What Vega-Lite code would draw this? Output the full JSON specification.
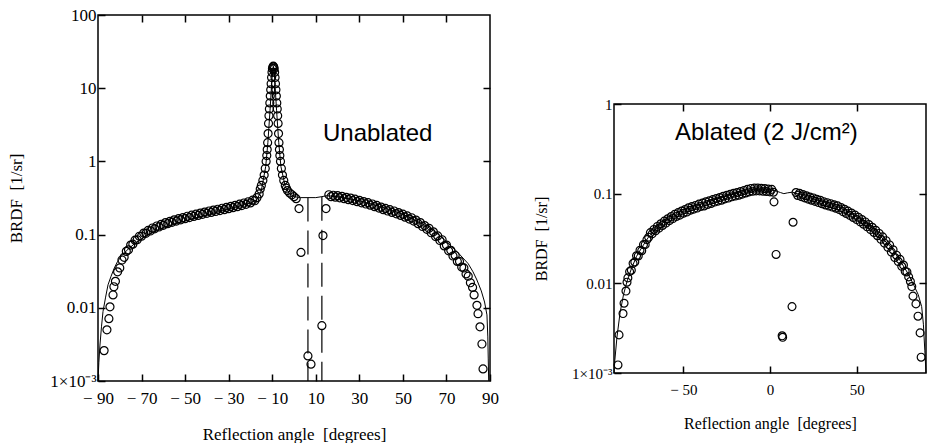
{
"$schema": "https://vega.github.io/schema/vega-lite/v6.json",
"background": "white",
"padding": {"left": 7, "top": 5, "right": 0, "bottom": 0},
"spacing": 32,
"config": {
  "view": {"stroke": "black", "strokeWidth": 1.5},
  "axis": {"domain": false, "grid": false, "tickColor": "black", "tickSize": -7, "tickWidth": 1.5, "labelColor": "black", "labelFont": "Liberation Serif", "titleFont": "Liberation Serif", "titleFontWeight": "normal", "titleColor": "black", "labelPadding": 16, "labelOverlap": false, "labelFlush": false}
},
"datasets": {
  "ptsL": [
    {"x": -87.2, "y": 0.0026}, {"x": -85.9, "y": 0.005}, {"x": -85, "y": 0.0071}, {"x": -84.5, "y": 0.0103}, {"x": -83.1, "y": 0.015}, {"x": -82.7, "y": 0.0194},
    {"x": -82, "y": 0.023}, {"x": -81, "y": 0.031}, {"x": -80, "y": 0.035}, {"x": -79, "y": 0.045}, {"x": -78, "y": 0.049}, {"x": -77, "y": 0.059}, {"x": -76, "y": 0.062}, {"x": -75, "y": 0.072}, {"x": -74, "y": 0.074}, {"x": -73, "y": 0.084}, {"x": -72, "y": 0.085}, {"x": -71, "y": 0.095}, {"x": -70, "y": 0.095}, {"x": -69, "y": 0.105}, {"x": -68, "y": 0.104}, {"x": -67, "y": 0.114}, {"x": -66, "y": 0.112}, {"x": -65, "y": 0.123}, {"x": -64, "y": 0.12}, {"x": -63, "y": 0.131}, {"x": -62, "y": 0.127}, {"x": -61, "y": 0.138}, {"x": -60, "y": 0.134}, {"x": -59, "y": 0.146}, {"x": -58, "y": 0.141}, {"x": -57, "y": 0.152}, {"x": -56, "y": 0.147}, {"x": -55, "y": 0.159}, {"x": -54, "y": 0.153}, {"x": -53, "y": 0.165}, {"x": -52, "y": 0.159}, {"x": -51, "y": 0.171}, {"x": -50, "y": 0.165}, {"x": -49, "y": 0.178}, {"x": -48, "y": 0.171}, {"x": -47, "y": 0.184}, {"x": -46, "y": 0.177}, {"x": -45, "y": 0.19}, {"x": -44, "y": 0.183}, {"x": -43, "y": 0.197}, {"x": -42, "y": 0.189}, {"x": -41, "y": 0.203}, {"x": -40, "y": 0.195}, {"x": -39, "y": 0.21}, {"x": -38, "y": 0.201}, {"x": -37, "y": 0.216}, {"x": -36, "y": 0.207}, {"x": -35, "y": 0.222}, {"x": -34, "y": 0.213}, {"x": -33, "y": 0.229}, {"x": -32, "y": 0.219}, {"x": -31, "y": 0.236}, {"x": -30, "y": 0.226}, {"x": -29, "y": 0.243}, {"x": -28, "y": 0.233}, {"x": -27, "y": 0.251}, {"x": -26, "y": 0.241}, {"x": -25, "y": 0.26}, {"x": -24, "y": 0.249}, {"x": -23, "y": 0.27}, {"x": -22, "y": 0.259}, {"x": -21, "y": 0.281}, {"x": -20, "y": 0.271}, {"x": -19, "y": 0.295}, {"x": -18, "y": 0.29}, {"x": -17, "y": 0.32}, {"x": -16, "y": 0.36},
    {"x": -15.5, "y": 0.42}, {"x": -15, "y": 0.47}, {"x": -14.3, "y": 0.55}, {"x": -13.7, "y": 0.65}, {"x": -13.2, "y": 0.8}, {"x": -12.8, "y": 1.0}, {"x": -12.5, "y": 1.2}, {"x": -12.3, "y": 1.45}, {"x": -12.1, "y": 1.8}, {"x": -11.9, "y": 2.4}, {"x": -11.7, "y": 3.3}, {"x": -11.5, "y": 4.2}, {"x": -11.3, "y": 5.2}, {"x": -11.1, "y": 6.3}, {"x": -10.9, "y": 7.8}, {"x": -10.7, "y": 9.5}, {"x": -10.5, "y": 11.5}, {"x": -10.3, "y": 14}, {"x": -10.1, "y": 16.5}, {"x": -9.9, "y": 18.5}, {"x": -9.7, "y": 19.5}, {"x": -9.5, "y": 20},
    {"x": -9.3, "y": 19.5}, {"x": -9.1, "y": 18.5}, {"x": -8.9, "y": 16.5}, {"x": -8.7, "y": 14}, {"x": -8.5, "y": 11.5}, {"x": -8.3, "y": 9.5}, {"x": -8.1, "y": 7.8}, {"x": -7.9, "y": 6.3}, {"x": -7.7, "y": 5.2}, {"x": -7.5, "y": 4.2}, {"x": -7.3, "y": 3.3}, {"x": -7.1, "y": 2.4}, {"x": -6.9, "y": 1.8}, {"x": -6.7, "y": 1.45}, {"x": -6.5, "y": 1.2}, {"x": -6.2, "y": 1.0}, {"x": -5.8, "y": 0.8}, {"x": -5.3, "y": 0.65}, {"x": -4.7, "y": 0.55}, {"x": -4, "y": 0.47}, {"x": -3.5, "y": 0.43}, {"x": -3, "y": 0.4}, {"x": -2, "y": 0.37}, {"x": -1, "y": 0.35}, {"x": 0, "y": 0.33}, {"x": 1, "y": 0.31},
    {"x": 2.3, "y": 0.227}, {"x": 3.2, "y": 0.057}, {"x": 6.4, "y": 0.0022}, {"x": 7.8, "y": 0.0017}, {"x": 12.8, "y": 0.0057}, {"x": 13.3, "y": 0.097}, {"x": 14.7, "y": 0.227},
    {"x": 16, "y": 0.35}, {"x": 17, "y": 0.33}, {"x": 18, "y": 0.345}, {"x": 19, "y": 0.325}, {"x": 20, "y": 0.34}, {"x": 21, "y": 0.318}, {"x": 22, "y": 0.333}, {"x": 23, "y": 0.31}, {"x": 24, "y": 0.323}, {"x": 25, "y": 0.3}, {"x": 26, "y": 0.315}, {"x": 27, "y": 0.292}, {"x": 28, "y": 0.305}, {"x": 29, "y": 0.282}, {"x": 30, "y": 0.294}, {"x": 31, "y": 0.272}, {"x": 32, "y": 0.283}, {"x": 33, "y": 0.262}, {"x": 34, "y": 0.273}, {"x": 35, "y": 0.252}, {"x": 36, "y": 0.262}, {"x": 37, "y": 0.241}, {"x": 38, "y": 0.25}, {"x": 39, "y": 0.23}, {"x": 40, "y": 0.238}, {"x": 41, "y": 0.219}, {"x": 42, "y": 0.228}, {"x": 43, "y": 0.21}, {"x": 44, "y": 0.219}, {"x": 45, "y": 0.201}, {"x": 46, "y": 0.21}, {"x": 47, "y": 0.192}, {"x": 48, "y": 0.2}, {"x": 49, "y": 0.183}, {"x": 50, "y": 0.19}, {"x": 51, "y": 0.173}, {"x": 52, "y": 0.18}, {"x": 53, "y": 0.163}, {"x": 54, "y": 0.17}, {"x": 55, "y": 0.153}, {"x": 56, "y": 0.158}, {"x": 57, "y": 0.141}, {"x": 58, "y": 0.146}, {"x": 59, "y": 0.129}, {"x": 60, "y": 0.133}, {"x": 61, "y": 0.118}, {"x": 62, "y": 0.122}, {"x": 63, "y": 0.106}, {"x": 64, "y": 0.109}, {"x": 65, "y": 0.094}, {"x": 66, "y": 0.096}, {"x": 67, "y": 0.083}, {"x": 68, "y": 0.085}, {"x": 69, "y": 0.07}, {"x": 70, "y": 0.072}, {"x": 71, "y": 0.06}, {"x": 72, "y": 0.061}, {"x": 73, "y": 0.051}, {"x": 74, "y": 0.052}, {"x": 75, "y": 0.043}, {"x": 76, "y": 0.043}, {"x": 77, "y": 0.036}, {"x": 78, "y": 0.035}, {"x": 79, "y": 0.029}, {"x": 80, "y": 0.027}, {"x": 81, "y": 0.022}, {"x": 82, "y": 0.019},
    {"x": 82.7, "y": 0.015}, {"x": 84, "y": 0.0108}, {"x": 84.5, "y": 0.0083}, {"x": 85.4, "y": 0.0055}, {"x": 86.3, "y": 0.0032}, {"x": 86.8, "y": 0.00146}
  ],
  "fitL": [
    {"x": -90, "y": 0.001}, {"x": -89.6, "y": 0.0018}, {"x": -89.1, "y": 0.0031}, {"x": -88.4, "y": 0.0055}, {"x": -87.7, "y": 0.0089}, {"x": -86.5, "y": 0.014}, {"x": -85.4, "y": 0.0206}, {"x": -84, "y": 0.027}, {"x": -82.5, "y": 0.035}, {"x": -81, "y": 0.043}, {"x": -79, "y": 0.052}, {"x": -76, "y": 0.064}, {"x": -73, "y": 0.076}, {"x": -70, "y": 0.088}, {"x": -65, "y": 0.106}, {"x": -60, "y": 0.122}, {"x": -55, "y": 0.138}, {"x": -50, "y": 0.153}, {"x": -45, "y": 0.17}, {"x": -40, "y": 0.186}, {"x": -35, "y": 0.204}, {"x": -30, "y": 0.223}, {"x": -25, "y": 0.245}, {"x": -20, "y": 0.27}, {"x": -17, "y": 0.3}, {"x": -15, "y": 0.4}, {"x": -13, "y": 0.85}, {"x": -12, "y": 1.8}, {"x": -11, "y": 5}, {"x": -10, "y": 15}, {"x": -9.5, "y": 20}, {"x": -9, "y": 15}, {"x": -8, "y": 5}, {"x": -7, "y": 1.8}, {"x": -6, "y": 0.85}, {"x": -4, "y": 0.45}, {"x": -2, "y": 0.36}, {"x": 0, "y": 0.33}, {"x": 3, "y": 0.32}, {"x": 6.4, "y": 0.32}, {"x": 10, "y": 0.32}, {"x": 12.8, "y": 0.33}, {"x": 15, "y": 0.34}, {"x": 20, "y": 0.33}, {"x": 30, "y": 0.29}, {"x": 40, "y": 0.24}, {"x": 50, "y": 0.19}, {"x": 60, "y": 0.135}, {"x": 65, "y": 0.108}, {"x": 70, "y": 0.08}, {"x": 75, "y": 0.058}, {"x": 80, "y": 0.04}, {"x": 82.2, "y": 0.031}, {"x": 84, "y": 0.024}, {"x": 86, "y": 0.017}, {"x": 87.5, "y": 0.012}, {"x": 88.6, "y": 0.008}, {"x": 89, "y": 0.004}, {"x": 89.2, "y": 0.002}, {"x": 89.4, "y": 0.001}
  ],
  "ptsR": [
    {"x": -87.7, "y": 0.00123}, {"x": -87.1, "y": 0.00266}, {"x": -84.8, "y": 0.0046}, {"x": -84.2, "y": 0.006}, {"x": -83.1, "y": 0.0082}, {"x": -82.5, "y": 0.0103},
    {"x": -82, "y": 0.0115}, {"x": -81, "y": 0.0135}, {"x": -80, "y": 0.014}, {"x": -79, "y": 0.0167}, {"x": -78, "y": 0.0173}, {"x": -77, "y": 0.0203}, {"x": -76, "y": 0.0202}, {"x": -75, "y": 0.0234}, {"x": -74, "y": 0.0231}, {"x": -73, "y": 0.027}, {"x": -72, "y": 0.027}, {"x": -71, "y": 0.0307}, {"x": -70, "y": 0.0327}, {"x": -69, "y": 0.0368}, {"x": -68, "y": 0.0356}, {"x": -67, "y": 0.0399}, {"x": -66, "y": 0.0385}, {"x": -65, "y": 0.0431}, {"x": -64, "y": 0.0413}, {"x": -63, "y": 0.0462}, {"x": -62, "y": 0.0442}, {"x": -61, "y": 0.0494}, {"x": -60, "y": 0.047}, {"x": -59, "y": 0.0525}, {"x": -58, "y": 0.05}, {"x": -57, "y": 0.0556}, {"x": -56, "y": 0.0528}, {"x": -55, "y": 0.0588}, {"x": -54, "y": 0.0557}, {"x": -53, "y": 0.0614}, {"x": -52, "y": 0.0576}, {"x": -51, "y": 0.064}, {"x": -50, "y": 0.0605}, {"x": -49, "y": 0.0666}, {"x": -48, "y": 0.0624}, {"x": -47, "y": 0.0697}, {"x": -46, "y": 0.0653}, {"x": -45, "y": 0.0718}, {"x": -44, "y": 0.0672}, {"x": -43, "y": 0.0739}, {"x": -42, "y": 0.0691}, {"x": -41, "y": 0.0765}, {"x": -40, "y": 0.072}, {"x": -39, "y": 0.0785}, {"x": -38, "y": 0.073}, {"x": -37, "y": 0.0811}, {"x": -36, "y": 0.0758}, {"x": -35, "y": 0.0832}, {"x": -34, "y": 0.0778}, {"x": -33, "y": 0.0858}, {"x": -32, "y": 0.0806}, {"x": -31, "y": 0.0884}, {"x": -30, "y": 0.0826}, {"x": -29, "y": 0.0905}, {"x": -28, "y": 0.0845}, {"x": -27, "y": 0.0936}, {"x": -26, "y": 0.0874}, {"x": -25, "y": 0.0957}, {"x": -24, "y": 0.0893}, {"x": -23, "y": 0.0983}, {"x": -22, "y": 0.0922}, {"x": -21, "y": 0.1009}, {"x": -20, "y": 0.0941}, {"x": -19, "y": 0.103}, {"x": -18, "y": 0.096}, {"x": -17, "y": 0.1056}, {"x": -16, "y": 0.0989}, {"x": -15, "y": 0.1087}, {"x": -14, "y": 0.1018}, {"x": -13, "y": 0.1118}, {"x": -12, "y": 0.1046}, {"x": -11, "y": 0.1144}, {"x": -10, "y": 0.1066}, {"x": -9, "y": 0.1154}, {"x": -8, "y": 0.1075}, {"x": -7, "y": 0.1154}, {"x": -6, "y": 0.1075}, {"x": -5, "y": 0.1149}, {"x": -4, "y": 0.1066}, {"x": -3, "y": 0.1138}, {"x": -2, "y": 0.1056}, {"x": -1, "y": 0.1128}, {"x": 0, "y": 0.1046}, {"x": 1, "y": 0.1117}, {"x": 2, "y": 0.1037},
    {"x": 2.3, "y": 0.081}, {"x": 13.3, "y": 0.048}, {"x": 3.5, "y": 0.021}, {"x": 12.7, "y": 0.0055}, {"x": 7, "y": 0.0026}, {"x": 7.3, "y": 0.0025},
    {"x": 15, "y": 0.103}, {"x": 16, "y": 0.0955}, {"x": 17, "y": 0.1009}, {"x": 18, "y": 0.0926}, {"x": 19, "y": 0.0979}, {"x": 20, "y": 0.0898}, {"x": 21, "y": 0.0948}, {"x": 22, "y": 0.0869}, {"x": 23, "y": 0.0917}, {"x": 24, "y": 0.0845}, {"x": 25, "y": 0.0896}, {"x": 26, "y": 0.082}, {"x": 27, "y": 0.0865}, {"x": 28, "y": 0.0796}, {"x": 29, "y": 0.0845}, {"x": 30, "y": 0.0772}, {"x": 31, "y": 0.0814}, {"x": 32, "y": 0.0748}, {"x": 33, "y": 0.0793}, {"x": 34, "y": 0.0728}, {"x": 35, "y": 0.0773}, {"x": 36, "y": 0.0709}, {"x": 37, "y": 0.0752}, {"x": 38, "y": 0.0689}, {"x": 39, "y": 0.0731}, {"x": 40, "y": 0.0665}, {"x": 41, "y": 0.07}, {"x": 42, "y": 0.0631}, {"x": 43, "y": 0.067}, {"x": 44, "y": 0.0602}, {"x": 45, "y": 0.0639}, {"x": 46, "y": 0.0573}, {"x": 47, "y": 0.0608}, {"x": 48, "y": 0.0543}, {"x": 49, "y": 0.0577}, {"x": 50, "y": 0.0514}, {"x": 51, "y": 0.0546}, {"x": 52, "y": 0.0485}, {"x": 53, "y": 0.0515}, {"x": 54, "y": 0.0456}, {"x": 55, "y": 0.0484}, {"x": 56, "y": 0.0427}, {"x": 57, "y": 0.0453}, {"x": 58, "y": 0.0398}, {"x": 59, "y": 0.0422}, {"x": 60, "y": 0.0369}, {"x": 61, "y": 0.0391}, {"x": 62, "y": 0.034}, {"x": 63, "y": 0.036}, {"x": 64, "y": 0.031}, {"x": 65, "y": 0.033}, {"x": 66, "y": 0.0281}, {"x": 67, "y": 0.0299}, {"x": 68, "y": 0.0252}, {"x": 69, "y": 0.0268}, {"x": 70, "y": 0.0223}, {"x": 71, "y": 0.0237}, {"x": 72, "y": 0.0194}, {"x": 73, "y": 0.0206}, {"x": 74, "y": 0.0175}, {"x": 75, "y": 0.0185}, {"x": 76, "y": 0.0155}, {"x": 77, "y": 0.016}, {"x": 78, "y": 0.0136}, {"x": 79, "y": 0.0134}, {"x": 80, "y": 0.0118}, {"x": 81, "y": 0.0105}, {"x": 81.8, "y": 0.0092},
    {"x": 82.5, "y": 0.0072}, {"x": 84.2, "y": 0.0059}, {"x": 85.4, "y": 0.0043}, {"x": 86.6, "y": 0.0028}, {"x": 87.2, "y": 0.0015}
  ],
  "fitR": [
    {"x": -90, "y": 0.001}, {"x": -89.5, "y": 0.0014}, {"x": -88.3, "y": 0.0025}, {"x": -86.5, "y": 0.0047}, {"x": -84.5, "y": 0.0075}, {"x": -82.5, "y": 0.0105}, {"x": -80, "y": 0.0145}, {"x": -77, "y": 0.02}, {"x": -74, "y": 0.025}, {"x": -70, "y": 0.033}, {"x": -65, "y": 0.042}, {"x": -60, "y": 0.05}, {"x": -50, "y": 0.063}, {"x": -40, "y": 0.076}, {"x": -30, "y": 0.088}, {"x": -20, "y": 0.1}, {"x": -10, "y": 0.111}, {"x": 0, "y": 0.11}, {"x": 3, "y": 0.108}, {"x": 6, "y": 0.103}, {"x": 8, "y": 0.1}, {"x": 10, "y": 0.102}, {"x": 13, "y": 0.104}, {"x": 15, "y": 0.101}, {"x": 20, "y": 0.094}, {"x": 30, "y": 0.081}, {"x": 40, "y": 0.07}, {"x": 50, "y": 0.055}, {"x": 60, "y": 0.04}, {"x": 70, "y": 0.025}, {"x": 75, "y": 0.018}, {"x": 80, "y": 0.0125}, {"x": 83, "y": 0.0095}, {"x": 85.5, "y": 0.0075}, {"x": 87.5, "y": 0.0055}, {"x": 88.5, "y": 0.0035}, {"x": 89.3, "y": 0.0018}, {"x": 90, "y": 0.001}
  ]
},
"hconcat": [
  {
    "width": 392, "height": 366,
    "layer": [
      {"data": {"name": "fitL"}, "mark": {"type": "line", "color": "black", "strokeWidth": 1}, "encoding": {
        "x": {"field": "x", "type": "quantitative", "scale": {"domain": [-90, 90], "nice": false, "zero": false}, "axis": {"values": [-90, -70, -50, -30, -10, 10, 30, 50, 70, 90], "labelExpr": "datum.value < 0 ? '\u2212 ' + abs(datum.value) : '' + datum.value", "labelFontSize": 17, "title": "Reflection angle \u00a0[degrees]", "titleFontSize": 17, "titlePadding": 20}},
        "y": {"field": "y", "type": "quantitative", "scale": {"type": "log", "domain": [0.001, 100], "nice": false}, "axis": {"values": [0.001, 0.01, 0.1, 1, 10, 100], "labelExpr": "datum.value < 0.005 ? '1\u00d710\u207b\u00b3' : format(datum.value, '~g')", "labelFontSize": 17, "labelPadding": 9, "title": "BRDF \u00a0[1/sr]", "titleFontSize": 17, "titlePadding": 24}}}},
      {"data": {"values": [{"x": 6.4, "y": 0.32, "y2": 0.001}, {"x": 12.8, "y": 0.33, "y2": 0.001}]}, "mark": {"type": "rule", "color": "black", "strokeWidth": 1.2, "strokeDash": [24, 9]}, "encoding": {
        "x": {"field": "x", "type": "quantitative", "scale": {"domain": [-90, 90], "nice": false, "zero": false}, "axis": null},
        "y": {"field": "y", "type": "quantitative", "scale": {"type": "log", "domain": [0.001, 100], "nice": false}, "axis": null},
        "y2": {"field": "y2"}}},
      {"data": {"name": "ptsL"}, "mark": {"type": "point", "shape": "circle", "filled": false, "size": 64, "color": "black", "strokeWidth": 1.2, "opacity": 1}, "encoding": {
        "x": {"field": "x", "type": "quantitative", "scale": {"domain": [-90, 90], "nice": false, "zero": false}, "axis": null},
        "y": {"field": "y", "type": "quantitative", "scale": {"type": "log", "domain": [0.001, 100], "nice": false}, "axis": null}}},
      {"data": {"values": [{"x": 13.3, "y": 1.88, "t": "Unablated"}]}, "mark": {"type": "text", "align": "left", "baseline": "alphabetic", "font": "Liberation Sans", "fontSize": 24, "color": "black"}, "encoding": {
        "x": {"field": "x", "type": "quantitative", "scale": {"domain": [-90, 90], "nice": false, "zero": false}, "axis": null},
        "y": {"field": "y", "type": "quantitative", "scale": {"type": "log", "domain": [0.001, 100], "nice": false}, "axis": null},
        "text": {"field": "t"}}},
      {"data": {"values": [{"x": 0, "y": 1}]}, "mark": {"type": "point", "opacity": 0}, "encoding": {
        "x": {"field": "x", "type": "quantitative", "scale": {"domain": [-90, 90], "nice": false, "zero": false}, "axis": {"orient": "top", "labels": false, "title": null, "values": [-70, -50, -30, -10, 10, 30, 50, 70]}},
        "y": {"field": "y", "type": "quantitative", "scale": {"type": "log", "domain": [0.001, 100], "nice": false}, "axis": {"orient": "right", "labels": false, "title": null, "values": [0.01, 0.1, 1, 10]}}}}
    ],
    "resolve": {"axis": {"x": "independent", "y": "independent"}}
  },
  {
    "spacing": 0,
    "vconcat": [
      {"width": 312, "height": 81, "view": {"stroke": null}, "data": {"values": [{"x": 0}]}, "mark": {"type": "point", "opacity": 0}, "encoding": {}},
      {
        "width": 312, "height": 269,
        "layer": [
          {"data": {"name": "fitR"}, "mark": {"type": "line", "color": "black", "strokeWidth": 1}, "encoding": {
            "x": {"field": "x", "type": "quantitative", "scale": {"domain": [-90, 90], "nice": false, "zero": false}, "axis": {"values": [-50, 0, 50], "labelExpr": "datum.value < 0 ? '\u2212 ' + abs(datum.value) : '' + datum.value", "labelFontSize": 15, "title": "Reflection angle \u00a0[degrees]", "titleFontSize": 16, "titlePadding": 18}},
            "y": {"field": "y", "type": "quantitative", "scale": {"type": "log", "domain": [0.001, 1], "nice": false}, "axis": {"values": [0.001, 0.01, 0.1, 1], "labelExpr": "datum.value < 0.005 ? '1\u00d710\u207b\u00b3' : format(datum.value, '~g')", "labelFontSize": 15, "labelPadding": 9, "title": "BRDF \u00a0[1/sr]", "titleFontSize": 16, "titlePadding": 22}}}},
          {"data": {"name": "ptsR"}, "mark": {"type": "point", "shape": "circle", "filled": false, "size": 62, "color": "black", "strokeWidth": 1.2, "opacity": 1}, "encoding": {
            "x": {"field": "x", "type": "quantitative", "scale": {"domain": [-90, 90], "nice": false, "zero": false}, "axis": null},
            "y": {"field": "y", "type": "quantitative", "scale": {"type": "log", "domain": [0.001, 1], "nice": false}, "axis": null}}},
          {"data": {"values": [{"x": -54.8, "y": 0.397, "t": "Ablated (2 J/cm\u00b2)"}]}, "mark": {"type": "text", "align": "left", "baseline": "alphabetic", "font": "Liberation Sans", "fontSize": 24, "color": "black"}, "encoding": {
            "x": {"field": "x", "type": "quantitative", "scale": {"domain": [-90, 90], "nice": false, "zero": false}, "axis": null},
            "y": {"field": "y", "type": "quantitative", "scale": {"type": "log", "domain": [0.001, 1], "nice": false}, "axis": null},
            "text": {"field": "t"}}},
          {"data": {"values": [{"x": 0, "y": 0.1}]}, "mark": {"type": "point", "opacity": 0}, "encoding": {
            "x": {"field": "x", "type": "quantitative", "scale": {"domain": [-90, 90], "nice": false, "zero": false}, "axis": {"orient": "top", "labels": false, "title": null, "values": [-50, 0, 50]}},
            "y": {"field": "y", "type": "quantitative", "scale": {"type": "log", "domain": [0.001, 1], "nice": false}, "axis": {"orient": "right", "labels": false, "title": null, "values": [0.01, 0.1]}}}}
        ],
        "resolve": {"axis": {"x": "independent", "y": "independent"}}
      }
    ]
  }
]
}
